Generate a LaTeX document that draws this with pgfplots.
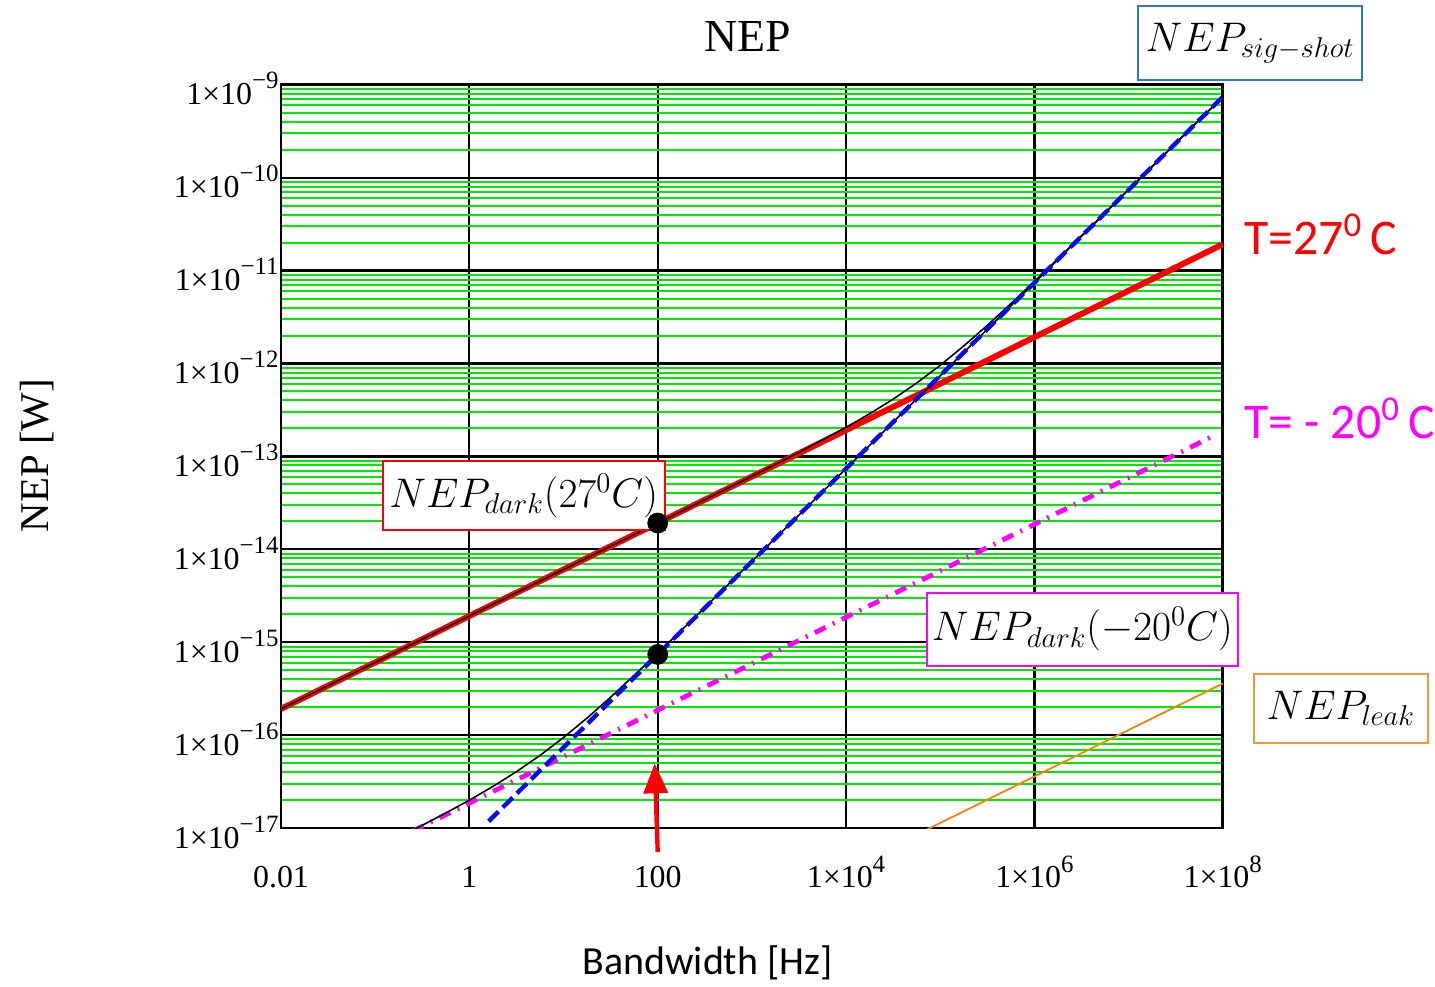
\documentclass[border=0pt]{standalone}
\usepackage{pgfplots}
\pgfplotsset{compat=1.18}
\usepackage{fontspec}
\setmainfont{Liberation Serif}
\newfontfamily\calib{Carlito}
\usetikzlibrary{arrows.meta}
\definecolor{gridgreen}{RGB}{0,235,0}
\definecolor{boxblue}{RGB}{46,117,214}
\definecolor{boxorange}{RGB}{245,150,60}
\definecolor{leakorange}{RGB}{255,128,0}
\definecolor{nepblue}{RGB}{10,10,240}
\definecolor{mag}{RGB}{255,0,255}
\newcommand\sps[1]{\raisebox{0.5em}{\fontsize{12.5}{14}\selectfont #1}}
\begin{document}
\begin{tikzpicture}
\path (0,0) rectangle (717.5pt,-492pt);
\begin{axis}[
  at={(141pt,-415.5pt)}, anchor=south west,
  scale only axis, width=472.5pt, height=373pt,
  xmode=log, ymode=log,
  xmin=1e-2, xmax=1e8, ymin=1e-17, ymax=1e-9,
  xtick={1e-2,1,1e2,1e4,1e6,1e8},
  xticklabels={0.01,1,100,1×10\sps{4},1×10\sps{6},1×10\sps{8}},
  minor xtick={},
  ytick={1e-17,1e-16,1e-15,1e-14,1e-13,1e-12,1e-11,1e-10,1e-9},
  yticklabels={1×10\sps{−17},1×10\sps{−16},1×10\sps{−15},1×10\sps{−14},1×10\sps{−13},1×10\sps{−12},1×10\sps{−11},1×10\sps{−10},1×10\sps{−9}},
  minor ytick={2e-17,3e-17,4e-17,5e-17,6e-17,7e-17,8e-17,9e-17,
               2e-16,3e-16,4e-16,5e-16,6e-16,7e-16,8e-16,9e-16,
               2e-15,3e-15,4e-15,5e-15,6e-15,7e-15,8e-15,9e-15,
               2e-14,3e-14,4e-14,5e-14,6e-14,7e-14,8e-14,9e-14,
               2e-13,3e-13,4e-13,5e-13,6e-13,7e-13,8e-13,9e-13,
               2e-12,3e-12,4e-12,5e-12,6e-12,7e-12,8e-12,9e-12,
               2e-11,3e-11,4e-11,5e-11,6e-11,7e-11,8e-11,9e-11,
               2e-10,3e-10,4e-10,5e-10,6e-10,7e-10,8e-10,9e-10},
  xmajorgrids, ymajorgrids, yminorgrids,
  major grid style={black, line width=1.1pt},
  minor grid style={gridgreen, line width=1pt},
  major tick length=0pt, minor tick length=0pt,
  axis line style={black, line width=1.3pt},
  tick label style={font=\fontsize{16}{19}\selectfont},
  xticklabel style={anchor=base, yshift=-30pt},
  yticklabel style={anchor=east, inner sep=1pt, yshift=-2pt},
]
% NEP leak
\addplot[leakorange, line width=0.9pt] coordinates {(7e4,9.52e-18) (1e8,3.6e-16)};
% NEP dark -20 C
\addplot[mag, line width=2.4pt, dash pattern=on 6pt off 4pt on 1pt off 4pt] coordinates {(0.25,9.3e-18) (8e7,1.664e-13)};
% NEP dark 27 C
\addplot[red, line width=3pt] coordinates {(0.01,1.92e-16) (1e8,1.92e-11)};
% total at 27 C
\addplot[black, line width=0.8pt] coordinates {
(0.01,1.92e-16) (1,1.92e-15) (100,1.921e-14) (1000,6.117e-14) (3162,1.1048e-13)
(10000,2.0577e-13) (17783,2.8787e-13) (31623,4.1393e-13) (56234,6.1683e-13)
(1e5,9.5724e-13) (177828,1.5450e-12) (316228,2.5772e-12) (562341,4.4036e-12)
(1e6,7.6454e-12) (1778279,1.3406e-11) (3162278,2.3649e-11) (1e7,7.4253e-11) (1e8,7.4029e-10)};
% total at -20 C
\addplot[black, line width=0.8pt] coordinates {
(0.25,9.48e-18) (0.5623,1.4556e-17) (1,2.0018e-17) (1.778,2.8077e-17) (3.162,4.0516e-17)
(5.623,6.0638e-17) (10,9.4527e-17) (17.78,1.5319e-16) (31.62,2.5631e-16) (100,7.6301e-16)
(316.2,2.3633e-15) (1000,7.4232e-15) (1e4,7.4022e-14) (1e8,7.4e-10)};
% NEP signal shot
\addplot[nepblue, line width=2.2pt, dash pattern=on 7pt off 3pt] coordinates {(1.6,1.184e-17) (1e8,7.4e-10)};
\end{axis}
\begin{scope}[x=0.5pt,y=-0.5pt]
\node[anchor=base, font=\fontsize{23}{26}\selectfont] at (750,52) {NEP};
\node[rotate=90, font=\fontsize{20.5}{24}\selectfont] at (37,457) {NEP [W]};
\node[anchor=base, font=\calib\fontsize{20}{24}\selectfont] at (710,978) {Bandwidth [Hz]};
\node[anchor=base west, inner sep=0pt, text=red, font=\calib\fontsize{25}{30}\selectfont] at (1248,255) {T=27\textsuperscript{0}\,C};
\node[anchor=base west, inner sep=0pt, text=mag, font=\calib\fontsize{25}{30}\selectfont] at (1248,440) {T= - 20\textsuperscript{0}\,C};
\node[draw=red, line width=1pt, fill=white, minimum width=141.5pt, minimum height=34.5pt, inner sep=0pt, font=\fontsize{20}{23}\selectfont] at (525.5,497.5) {$NEP_{dark}(27^0C)$};
\node[draw=boxblue, line width=1pt, fill=white, minimum width=112.5pt, minimum height=37pt, inner sep=0pt, font=\fontsize{20}{23}\selectfont] at (1254.5,43) {$NEP_{sig-shot}$};
\node[draw=mag, line width=1pt, fill=white, minimum width=156pt, minimum height=36.5pt, inner sep=0pt, font=\fontsize{20}{23}\selectfont] at (1086,631.5) {$NEP_{dark}(-20^0C)$};
\node[draw=boxorange, line width=1pt, fill=white, minimum width=87.5pt, minimum height=35pt, inner sep=0pt, font=\fontsize{20}{23}\selectfont] at (1345.5,711) {$NEP_{leak}$};
\draw[red, line width=2.2pt, -{Triangle[length=15pt, width=12pt]}] (660,855) -- (657,766);
\end{scope}
\begin{axis}[
  at={(141pt,-415.5pt)}, anchor=south west,
  scale only axis, width=472.5pt, height=373pt,
  xmode=log, ymode=log,
  xmin=1e-2, xmax=1e8, ymin=1e-17, ymax=1e-9,
  hide axis]
\addplot[only marks, mark=*, mark size=5pt, black] coordinates {(100,1.92e-14) (100,7.4e-16)};
\end{axis}
\end{tikzpicture}
\end{document}
